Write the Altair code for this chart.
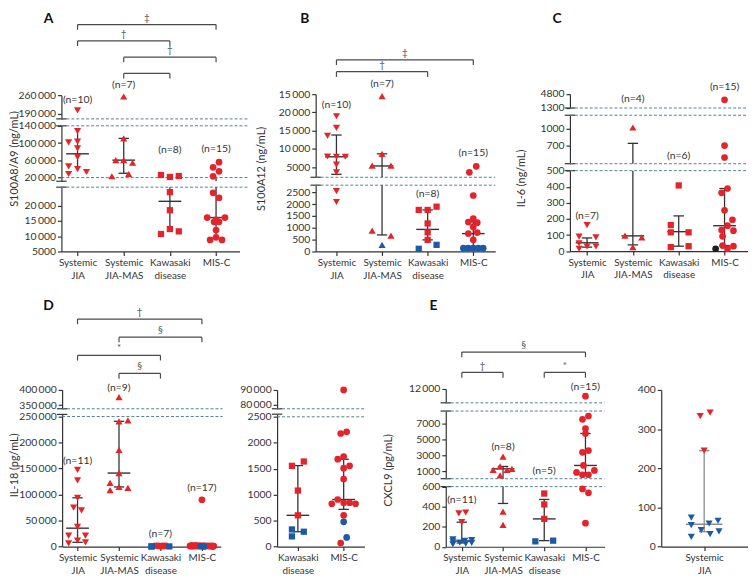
import altair as alt
import pandas as pd

# ---------------- colours / fonts ----------------
RED, BLUE, BLACK = "#E5232B", "#1A5AA6", "#1E1E1E"
INK = "#333333"
GREY = "#8C8C8C"
DASH = "#53828F"
FONT = "Lato"
COLS = {"r": RED, "b": BLUE, "k": BLACK}
SIZES = {"triangle-down": 52, "triangle-up": 52, "square": 40, "circle": 46}
SH = ["triangle-down", "triangle-up", "square", "circle"]

# ======================= DATA =======================
# ---- Panel A : S100A8/A9 (ng/mL) ----
A_CATS = [["Systemic", "JIA"], ["Systemic", "JIA-MAS"], ["Kawasaki", "disease"], "MIS-C"]
A0_V = [202600, 127800, 101700, 103300, 87900, 67300, 45900, 39700, 32850, 28270]
A0_S = [2, 1, 1, 1, 1, 1, 1, 1, 1, 1]
A0_J = [0, 0, -9, 0, 0, 0, -9, 0, 9, -9]
A0_C = "rrrrrrrrrr"
A1_V = [255000, 110900, 60400, 60400, 54400, 23000, 28300]
A1_S = [2, 1, 1, 1, 1, 1, 1]
A1_J = [0, 0, -8, 0, 9, -12, 5]
A1_C = "rrrrrrr"
A2_V = [26000, 21400, 23700, 24380, 18470, 10720, 12330, 11560]
A2_S = [1, 1, 1, 0, 0, 0, 0, 0]
A2_J = [-9, 0, 9, 0, 0, -9, 0, 9]
A2_C = "rrrrrrrr"
A3_V = [55800, 43640, 34460, 23000, 24160, 22540, 16080, 16080, 14690, 14690, 12010, 8780, 9620, 8780, 15300]
A3_S = [1, 1, 1, 1, 0, 0, 0, 0, 0, 0, 0, 0, 0, 0, 0]
A3_J = [3, -3, 3, -3, -3, 3, -9, 9, -2, 3, 0, -6, 0, 6, 0]
A3_C = "rrrrrrrrrrrrrrr"
A_MED = [75100, 60400, 21380, 16080]
A_MED_S = [1, 1, 0, 0]
A_HI = [126200, 110900, 26000, 19500]
A_HI_S = [1, 1, 0, 1]
A_LO = [38400, 30000, 12330, 9620]
A_LO_S = [1, 1, 0, 0]
A_CAP = [0, 1, 0, 0]
A_N = ["(n=10)", "(n=7)", "(n=8)", "(n=15)"]
A_NY = [241250, 297500, 84900, 87200]
A_NS = [2, 2, 1, 1]
A_BR_FROM = [0, 0, 1, 1]
A_BR_TO = [3, 2, 3, 2]
A_BR_LEVEL = [0, 1, 2, 3]
A_BR_SYM = ["‡", "†", "†", ""]
A_TICKS = [[5000, 10000, 15000, 20000], [20000, 60000, 100000, 140000], [190000, 260000]]
A_TLAB = [["5000", "10\u2009000", "15\u2009000", "20\u2009000"],
          ["20\u2009000", "60\u2009000", "100\u2009000", "140\u2009000"],
          ["190\u2009000", "260\u2009000"]]

# ---- Panel B : S100A12 (ng/mL) ----
B_CATS = A_CATS
B0_V = [18950, 15770, 13600, 7900, 7820, 7820, 5650, 3560, 2550, 2090]
B0_S = [1, 1, 1, 1, 1, 1, 1, 1, 0, 0]
B0_J = [0, 0, -9, -9, 0, 9, 0, 0, 0, 0]
B0_C = "rrrrrrrrrr"
B1_V = [24460, 8630, 5380, 5380, 878, 669, 280]
B1_S = [1, 1, 1, 1, 0, 0, 0]
B1_J = [0, 0, -10, 9, -10, 9, 0]
B1_C = "rrrrrrb"
B2_V = [1755, 1755, 1893, 1183, 807, 489, 113, 280]
B2_S = [0, 0, 0, 0, 0, 0, 0, 0]
B2_J = [-9, 0, 9, 0, 0, 0, -9, 9]
B2_C = "rrrrrrbb"
B3_V = [5190, 3560, 2364, 1383, 1245, 1215, 1035, 754, 796, 490, 140, 140, 140, 140, 140]
B3_S = [1, 1, 0, 0, 0, 0, 0, 0, 0, 0, 0, 0, 0, 0, 0]
B3_J = [3, -4, 0, 0, -5, 4, 0, -5, 4, 0, -10, -5, 0, 5, 10]
B3_C = "rrrrrrrrrrbbbbb"
B_MED = [7820, 5300, 932, 754]
B_MED_S = [1, 1, 0, 0]
B_HI = [13790, 8630, 1755, 1254]
B_HI_S = [1, 1, 0, 0]
B_LO = [3010, 698, 489, 140]
B_LO_S = [1, 0, 0, 0]
B_CAP = [1, 1, 1, 1]
B_N = ["(n=10)", "(n=7)", "(n=8)", "(n=15)"]
B_NY = [22010, 27710, 2424, 8714]
B_NS = [1, 1, 0, 1]
B_BR_FROM = [0, 0]
B_BR_TO = [3, 2]
B_BR_LEVEL = [0, 1]
B_BR_SYM = ["‡", "†"]
B_TICKS = [[0, 500, 1000, 1500, 2000, 2500], [5000, 10000, 15000, 20000, 25000]]
B_TLAB = [["0", "500", "1000", "1500", "2000", "2500"],
          ["5000", "10\u2009000", "15\u2009000", "20\u2009000", "15\u2009000"]]

# ---- Panel C : IL-6 (ng/mL) ----
C_CATS = A_CATS
C0_V = [162, 90, 86, 49, 29, 29, 15]
C0_S = [0, 0, 0, 0, 0, 0, 0]
C0_J = [0, -8, 9, -8, 0, 9, -8]
C0_C = "rrrrrrr"
C1_V = [1027, 96, 86, 25]
C1_S = [1, 0, 0, 0]
C1_J = [0, -8, 9, 0]
C1_C = "rrrr"
C2_V = [408, 162, 117, 117, 25, 31]
C2_S = [0, 0, 0, 0, 0, 0]
C2_J = [0, -8, -8, 10, -8, 10]
C2_C = "rrrrrr"
C3_V = [3331, 699, 483, 389, 362, 254, 195, 158, 131, 127, 92, 35, 31, 15, 15]
C3_S = [2, 1, 1, 0, 0, 0, 0, 0, 0, 0, 0, 0, 0, 0, 0]
C3_J = [0, 0, 0, 3, -3, 0, 8, 3, -3, 9, -2, -2, 9, 3, -9]
C3_C = "rrrrrrrrrrrrrrk"
C_MED = [52, 95, 121, 158]
C_MED_S = [0, 0, 0, 0]
C_HI = [82, 740, 219, 389]
C_HI_S = [0, 1, 0, 0]
C_LO = [25, 39, 31, 35]
C_LO_S = [0, 0, 0, 0]
C_CAP = [1, 1, 1, 1]
C_N = ["(n=7)", "(n=4)", "(n=6)", "(n=15)"]
C_NY = [219, 3576, 501, 6440]
C_NS = [0, 2, 1, 2]
C_TICKS = [[0, 100, 200, 300, 400, 500], [700, 1000], [1300, 4800]]
C_TLAB = [["0", "100", "200", "300", "400", "500"], ["700", "1000"], ["1300", "4800"]]

# ---- Panel D : IL-18 (pg/mL) ----
D_CATS = A_CATS
D0_V = [147530, 127380, 93730, 74720, 69580, 38020, 20910, 20910, 11410, 6270, 8180]
D0_S = [0] * 11
D0_J = [0, 0, 0, -4, 4, 0, -9, 8, 0, -9, 8]
D0_C = "rrrrrrrrrrr"
D1_V = [375590, 240700, 242600, 185560, 141260, 122250, 108370, 114640, 112740]
D1_S = [1, 0, 0, 0, 0, 0, 0, 0, 0]
D1_J = [0, 0, 9, 0, 0, -9, -9, 0, 9]
D1_C = "rrrrrrrrr"
D2_V = [1555, 1639, 1079, 602, 330, 196, 286]
D2_S = [0] * 7
D2_J = [-4, 4, -1, 2, -9, -9, 9]
D2_C = "rrrrbbb"
D3_V = [90000, 2178, 2211, 1734, 1683, 1555, 1511, 1302, 907, 825, 844, 844, 825, 602, 476, 177, 69]
D3_S = [0] * 17
D3_J = [0, -10, -6, -2, 2, 6, 10, -12, 12, -8, -4, 4, 8, -11, -1, 2, 11]
D3_C = "rrrrrrrrrrrrrrbbr"
D_MED = [35360, 141260, 602, 907]
D_MED_S = [0, 0, 0, 0]
D_HI = [93730, 240700, 1555, 1683]
D_HI_S = [0, 0, 0, 0]
D_LO = [8180, 114640, 286, 717]
D_LO_S = [0, 0, 0, 0]
D_CAP = [1, 1, 1, 1]
D_N = ["(n=11)", "(n=9)", "(n=7)", "(n=17)"]
D_NY = [163500, 405460, 23960, 112740]
D_NS = [0, 1, 0, 0]
D_BR_FROM = [0, 1, 0, 1]
D_BR_TO = [3, 3, 2, 2]
D_BR_LEVEL = [0, 1, 2, 3]
D_BR_SYM = ["†", "§", "*", "§"]
D_TICKS = [[0, 50000, 100000, 150000, 200000, 250000], [350000, 400000]]
D_TLAB = [["0", "50\u2009000", "100\u2009000", "150\u2009000", "200\u2009000", "250\u2009000"],
          ["350\u2009000", "400\u2009000"]]

# ---- Panel D inset ----
DI_CATS = [["Kawasaki", "disease"], "MIS-C"]
DI0_V = [1555, 1639, 1079, 602, 330, 196, 286]
DI0_S = [0] * 7
DI0_J = [-6, 6, 0, 0, -6, -6, 6]
DI0_C = "rrrrbbb"
DI1_V = [90000, 2178, 2211, 1734, 1683, 1555, 1511, 1302, 907, 825, 844, 844, 825, 602, 476, 177, 69]
DI1_S = [1] + [0] * 16
DI1_J = [0, -3, 3, 0, -6, 6, 0, 0, -6, -12, 0, 6, 12, 0, 0, 3, -3]
DI1_C = "rrrrrrrrrrrrrrbbr"
DI_MED = [602, 907]
DI_MED_S = [0, 0]
DI_HI = [1560, 1683]
DI_HI_S = [0, 0]
DI_LO = [286, 717]
DI_LO_S = [0, 0]
DI_CAP = [1, 1]
DI_TICKS = [[0, 500, 1000, 1500, 2000, 2500], [80000, 90000]]
DI_TLAB = [["0", "500", "1000", "1500", "2000", "2500"], ["80\u2009000", "90\u2009000"]]

# ---- Panel E : CXCL9 (pg/mL) ----
E_CATS = A_CATS
E0_V = [333, 342, 245, 74, 55, 25, 42, 32, 59, 66, 39]
E0_S = [0] * 11
E0_J = [-3, 4, 0, -9, -9, -9, -2, 4, 3, 10, 10]
E0_C = "rrrbbbbbbbb"
E1_V = [2864, 1198, 1621, 1198, 1323, 503, 350, 219]
E1_S = [1, 1, 1, 1, 1, 1, 0, 0]
E1_J = [0, -10, -3, 4, 9, -3, 0, 0]
E1_C = "rrrrrrrr"
E2_V = [531, 422, 278, 54, 61]
E2_S = [0] * 5
E2_J = [0, 0, 0, -9, 9]
E2_C = "rrrbb"
E3_V = [10436, 7536, 7959, 6380, 5759, 3398, 3609, 1745, 875, 577, 577, 1124, 577, 538, 235]
E3_S = [2] + [1] * 11 + [0] * 3
E3_J = [0, -3, 3, 0, 0, -3, 3, -2, -9, -3, 3, 9, -3, 3, 0]
E3_C = "rrrrrrrrrrrrrrr"
E_MED = [57, 1323, 278, 1745]
E_MED_S = [0, 1, 0, 1]
E_HI = [245, 1621, 472, 5759]
E_HI_S = [0, 1, 0, 1]
E_LO = [38, 432, 61, 577]
E_LO_S = [0, 0, 0, 1]
E_CAP = [1, 1, 1, 1]
E_N = ["(n=11)", "(n=8)", "(n=5)", "(n=15)"]
E_NY = [466, 4106, 1074, 12493]
E_NS = [0, 1, 1, 2]
E_BR_FROM = [0, 0, 2]
E_BR_TO = [3, 1, 3]
E_BR_LEVEL = [0, 1, 1]
E_BR_SYM = ["§", "†", "*"]
E_TICKS = [[0, 200, 400, 600], [1000, 3000, 5000, 7000], [12000]]
E_TLAB = [["0", "200", "400", "600"], ["1000", "3000", "5000", "7000"], ["12\u2009000"]]

# ---- Panel E inset ----
EI_CATS = [["Systemic", "JIA"]]
EI0_V = [333, 342, 245, 74, 55, 25, 42, 32, 59, 66, 39]
EI0_S = [0] * 11
EI0_J = [-4, 6, 0, -13, -13, -13, -3, 6, 5, 14, 15]
EI0_C = "rrrbbbbbbbb"
EI_MED = [57]
EI_MED_S = [0]
EI_HI = [245]
EI_HI_S = [0]
EI_LO = [38]
EI_LO_S = [0]
EI_CAP = [1]
EI_TICKS = [[0, 100, 200, 300, 400]]
EI_TLAB = [["0", "100", "200", "300", "400"]]

# ======================= LAYOUT (page pixels) =======================
OX, OY = 8, 8
W, H = 748, 573

LAY = {
    "A": dict(xr=(62, 242), c0=78.3, S=46.67, dash=252,
              segs=[(5000, 26000, 251, 186), (11520, 140000, 180, 124), (170000, 260000, 117, 93)],
              dashed=[[26000], [20000, 140000], [170000]],
              title="S100A8/A9 (ng/mL)", tseg=1, tpos=(15, 157), lv=(21.7, 71)),
    "B": dict(xr=(319, 500.5), c0=340, S=46.1, dash=500.5,
              segs=[(0, 2800, 251, 184), (2200, 25000, 176, 92)],
              dashed=[[2800], [2200]],
              title="S100A12 (ng/mL)", tseg=1, tpos=(264, 167), lv=(57.3, 69.3)),
    "C": dict(xr=(576, 756), c0=593.3, S=46.33, dash=756,
              segs=[(0, 500, 250.7, 169.3), (370, 1250, 162.3, 113.3), (1300, 4800, 106, 91.7)],
              dashed=[[500], [370, 1250], [1300]],
              title="IL-6 (ng/mL)", tseg=1, tpos=(527, 176.7)),
    "D": dict(xr=(62.7, 223), c0=78.3, S=41.9, dash=225,
              segs=[(0, 254000, 549.3, 415.7), (338000, 400000, 410, 390.7)],
              dashed=[[250000], [338000]],
              title="IL-18 (pg/mL)", tseg=0, tpos=(15, 466.7), lv=(319.3, 374.3)),
    "DI": dict(xr=(280, 368.3), c0=301, S=46.3, dash=368.3,
               segs=[(0, 2550, 549.3, 415.5), (77300, 90000, 410, 391)],
               dashed=[[2500], [77300]]),
    "E": dict(xr=(450.5, 611), c0=466.7, S=41.67, dash=611,
              segs=[(0, 600, 549.5, 488.7), (80, 8580, 480.7, 412.3), (9000, 12000, 404, 390)],
              dashed=[[600], [80, 8580], [9000]],
              title="CXCL9 (pg/mL)", tseg=1, tpos=(393, 471.7), lv=(352.7, 373.3)),
    "EI": dict(xr=(668.3, 756), c0=711.7, S=43.4, dash=756,
               segs=[(0, 400, 549.3, 391)], dashed=[[]]),
}
LETTERS = [("A", 49, 16), ("B", 308, 16), ("C", 563, 16), ("D", 49, 306), ("E", 438, 306)]


def lab_expr(values, labels):
    e = "''"
    for v, l in reversed(list(zip(values, labels))):
        e = f"datum.value == {v} ? '{l}' : ({e})"
    return e


def xlab_expr(cats):
    e = "''"
    for i in reversed(range(len(cats))):
        c = cats[i]
        lit = "[" + ",".join(f"'{s}'" for s in c) + "]" if isinstance(c, list) else f"'{c}'"
        e = f"datum.value == {i} ? {lit} : ({e})"
    return e


def panel(L, cats, groups, stats, nl=None, ticks=None, tlabs=None, br=None,
          stat_color=INK, med_size=529):
    med, med_s, hi, hi_s, lo, lo_s, cap = stats
    xr0, xr1 = L["xr"]
    c0, S = L["c0"], L["S"]
    xd = [(xr0 - c0) / S, (xr1 - c0) / S]
    dash_end = (L["dash"] - c0) / S
    xs = alt.Scale(domain=xd, range=[xr0 - OX, xr1 - OX], nice=False, zero=False)

    rec = []
    for gi, (shape, vals, segs, jit, cols) in enumerate(groups):
        for v, s, j, c in zip(vals, segs, jit, cols):
            rec.append(dict(x=gi + j / S, y=v, seg=s, shape=shape, col=COLS[c], sz=SIZES[shape]))
    pts = pd.DataFrame(rec)

    out = []
    nseg = len(L["segs"])
    for k, (d0, d1, y0, y1) in enumerate(L["segs"]):
        ys = alt.Scale(domain=[d0, d1], range=[y0 - OY, y1 - OY], nice=False, zero=False)
        if k == 0:
            xax = alt.Axis(orient="bottom", offset=(y0 - OY) - H, values=list(range(len(cats))),
                           labelExpr=xlab_expr(cats), title=None, labelLineHeight=13,
                           labelPadding=2, labelFontSize=10)
        else:
            xax = None
        kw = dict(orient="left", offset=-(xr0 - OX), values=ticks[k],
                  labelExpr=lab_expr(ticks[k], tlabs[k]))
        if L.get("title") and k == L["tseg"]:
            tx, ty = L["tpos"]
            kw.update(title=L["title"], titleX=tx - xr0, titleY=ty - OY, titleAngle=270,
                      titleAlign="center", titleBaseline="middle")
        else:
            kw.update(title=None)
        yax = alt.Axis(**kw)
        X = alt.X("x:Q", scale=xs, axis=xax)
        Y = alt.Y("y:Q", scale=ys, axis=yax)
        lay = []

        # break markers on the axis
        edges = []
        if k > 0:
            edges.append(d0)
        if k < nseg - 1:
            edges.append(d1)
        bdf = pd.DataFrame({"x": [xd[0]] * max(len(edges), 1), "y": edges if edges else [d0]})
        lay.append(alt.Chart(bdf).mark_point(shape="stroke", size=110 if edges else 0,
                                            color=INK, strokeWidth=1.2, opacity=1)
                   .encode(x=X, y=Y))

        dv = L["dashed"][k]
        if dv:
            dd = pd.DataFrame({"x": [xd[0]] * len(dv), "x2": [dash_end] * len(dv), "y": dv})
            lay.append(alt.Chart(dd).mark_rule(color=DASH, strokeDash=[3, 2], strokeWidth=1)
                       .encode(x=X, x2=alt.X2("x2:Q"), y=Y))

        rules, meds, caps = [], [], []
        for i in range(len(cats)):
            if lo_s[i] <= k <= hi_s[i]:
                top = hi[i] if k == hi_s[i] else d1
                bot = lo[i] if k == lo_s[i] else d0
                rules.append(dict(x=i, y=bot, y2=top))
            if med_s[i] == k:
                meds.append(dict(x=i, y=med[i]))
            if cap[i]:
                if hi_s[i] == k:
                    caps.append(dict(x=i, y=hi[i]))
                if lo_s[i] == k:
                    caps.append(dict(x=i, y=lo[i]))
        if rules:
            lay.append(alt.Chart(pd.DataFrame(rules)).mark_rule(color=stat_color, strokeWidth=1.3)
                       .encode(x=X, y=Y, y2=alt.Y2("y2:Q")))
        if caps:
            lay.append(alt.Chart(pd.DataFrame(caps)).mark_point(shape="stroke", size=110,
                                                                color=stat_color, strokeWidth=1.3, opacity=1)
                       .encode(x=X, y=Y))
        if meds:
            lay.append(alt.Chart(pd.DataFrame(meds)).mark_point(shape="stroke", size=med_size,
                                                                color=stat_color, strokeWidth=1.4, opacity=1)
                       .encode(x=X, y=Y))
        sp = pts[pts.seg == k]
        if len(sp):
            lay.append(alt.Chart(sp).mark_point(filled=True, opacity=1, strokeWidth=0)
                       .encode(x=X, y=Y,
                               shape=alt.Shape("shape:N", scale=None),
                               color=alt.Color("col:N", scale=None),
                               size=alt.Size("sz:Q", scale=None)))
        if nl:
            nlab, ny, ns = nl
            tr = [dict(x=i, y=ny[i], t=nlab[i]) for i in range(len(nlab)) if ns[i] == k]
            if tr:
                lay.append(alt.Chart(pd.DataFrame(tr)).mark_text(font=FONT, fontSize=10.5, color=INK,
                                                                  baseline="middle", align="center")
                           .encode(x=X, y=Y, text="t:N"))
        out.append(alt.layer(*lay))

    if br:
        bf, bt, bl, bs = br
        lv0, lv1 = L["lv"]
        ysb = alt.Scale(domain=[0, max(bl)], range=[lv0 - OY, lv1 - OY], nice=False, zero=False)
        XB = alt.X("x:Q", scale=xs, axis=None)
        YB = alt.Y("y:Q", scale=ysb, axis=None)
        bdf = pd.DataFrame({"x": bf, "x2": bt, "y": bl, "t": bs,
                            "xm": [(a + b) / 2 for a, b in zip(bf, bt)]})
        ends = pd.DataFrame({"x": list(bf) + list(bt), "y": list(bl) + list(bl)})
        blay = [
            alt.Chart(bdf).mark_rule(color="#4A4A4A", strokeWidth=1.2)
            .encode(x=XB, x2=alt.X2("x2:Q"), y=YB),
            alt.Chart(ends).mark_point(shape="M0,0L0,1", size=110, color="#4A4A4A",
                                       strokeWidth=1.2, filled=False, opacity=1)
            .encode(x=XB, y=YB),
            alt.Chart(bdf).mark_text(font=FONT, fontSize=10, color="#555555", dy=-7,
                                     baseline="middle", align="center")
            .encode(x=alt.X("xm:Q", scale=xs, axis=None), y=YB, text="t:N"),
        ]
        out.append(alt.layer(*blay))
    return out


def G(shapes, *arrs):
    return [(shapes[i],) + tuple(arrs[i]) for i in range(len(arrs))]


layers = []
layers += panel(LAY["A"], A_CATS,
                G(SH, (A0_V, A0_S, A0_J, A0_C), (A1_V, A1_S, A1_J, A1_C),
                  (A2_V, A2_S, A2_J, A2_C), (A3_V, A3_S, A3_J, A3_C)),
                (A_MED, A_MED_S, A_HI, A_HI_S, A_LO, A_LO_S, A_CAP),
                nl=(A_N, A_NY, A_NS), ticks=A_TICKS, tlabs=A_TLAB,
                br=(A_BR_FROM, A_BR_TO, A_BR_LEVEL, A_BR_SYM))
layers += panel(LAY["B"], B_CATS,
                G(SH, (B0_V, B0_S, B0_J, B0_C), (B1_V, B1_S, B1_J, B1_C),
                  (B2_V, B2_S, B2_J, B2_C), (B3_V, B3_S, B3_J, B3_C)),
                (B_MED, B_MED_S, B_HI, B_HI_S, B_LO, B_LO_S, B_CAP),
                nl=(B_N, B_NY, B_NS), ticks=B_TICKS, tlabs=B_TLAB,
                br=(B_BR_FROM, B_BR_TO, B_BR_LEVEL, B_BR_SYM))
layers += panel(LAY["C"], C_CATS,
                G(SH, (C0_V, C0_S, C0_J, C0_C), (C1_V, C1_S, C1_J, C1_C),
                  (C2_V, C2_S, C2_J, C2_C), (C3_V, C3_S, C3_J, C3_C)),
                (C_MED, C_MED_S, C_HI, C_HI_S, C_LO, C_LO_S, C_CAP),
                nl=(C_N, C_NY, C_NS), ticks=C_TICKS, tlabs=C_TLAB)
layers += panel(LAY["D"], D_CATS,
                G(SH, (D0_V, D0_S, D0_J, D0_C), (D1_V, D1_S, D1_J, D1_C),
                  (D2_V, D2_S, D2_J, D2_C), (D3_V, D3_S, D3_J, D3_C)),
                (D_MED, D_MED_S, D_HI, D_HI_S, D_LO, D_LO_S, D_CAP),
                nl=(D_N, D_NY, D_NS), ticks=D_TICKS, tlabs=D_TLAB,
                br=(D_BR_FROM, D_BR_TO, D_BR_LEVEL, D_BR_SYM))
layers += panel(LAY["DI"], DI_CATS,
                G(["square", "circle"], (DI0_V, DI0_S, DI0_J, DI0_C), (DI1_V, DI1_S, DI1_J, DI1_C)),
                (DI_MED, DI_MED_S, DI_HI, DI_HI_S, DI_LO, DI_LO_S, DI_CAP),
                ticks=DI_TICKS, tlabs=DI_TLAB)
layers += panel(LAY["E"], E_CATS,
                G(SH, (E0_V, E0_S, E0_J, E0_C), (E1_V, E1_S, E1_J, E1_C),
                  (E2_V, E2_S, E2_J, E2_C), (E3_V, E3_S, E3_J, E3_C)),
                (E_MED, E_MED_S, E_HI, E_HI_S, E_LO, E_LO_S, E_CAP),
                nl=(E_N, E_NY, E_NS), ticks=E_TICKS, tlabs=E_TLAB,
                br=(E_BR_FROM, E_BR_TO, E_BR_LEVEL, E_BR_SYM))
layers += panel(LAY["EI"], EI_CATS,
                G(["triangle-down"], (EI0_V, EI0_S, EI0_J, EI0_C)),
                (EI_MED, EI_MED_S, EI_HI, EI_HI_S, EI_LO, EI_LO_S, EI_CAP),
                ticks=EI_TICKS, tlabs=EI_TLAB, stat_color=GREY, med_size=1369)

for letter, lx, ly in LETTERS:
    layers.append(alt.Chart(pd.DataFrame({"t": [letter]})).mark_text(
        font=FONT, fontSize=14, fontWeight="bold", color="#111111", baseline="middle", align="center")
        .encode(text="t:N", x=alt.value(lx - OX), y=alt.value(ly - OY)))

chart = (alt.layer(*layers)
         .resolve_scale(x="independent", y="independent")
         .resolve_axis(x="independent", y="independent")
         .properties(width=W, height=H, padding=0, autosize=alt.AutoSizeParams(type="none"))
         .configure_view(strokeWidth=0)
         .configure_axis(labelFont=FONT, labelFontSize=10.5, labelColor=INK, domainColor=INK,
                         tickColor=INK, domainWidth=1.2, tickWidth=1.2, tickSize=4, grid=False,
                         labelOverlap=False, labelFlush=False, labelPadding=2,
                         titleFont=FONT, titleFontSize=11, titleFontWeight="normal", titleColor=INK))

chart.save("out.html", embed_options={"renderer": "svg", "actions": False})
